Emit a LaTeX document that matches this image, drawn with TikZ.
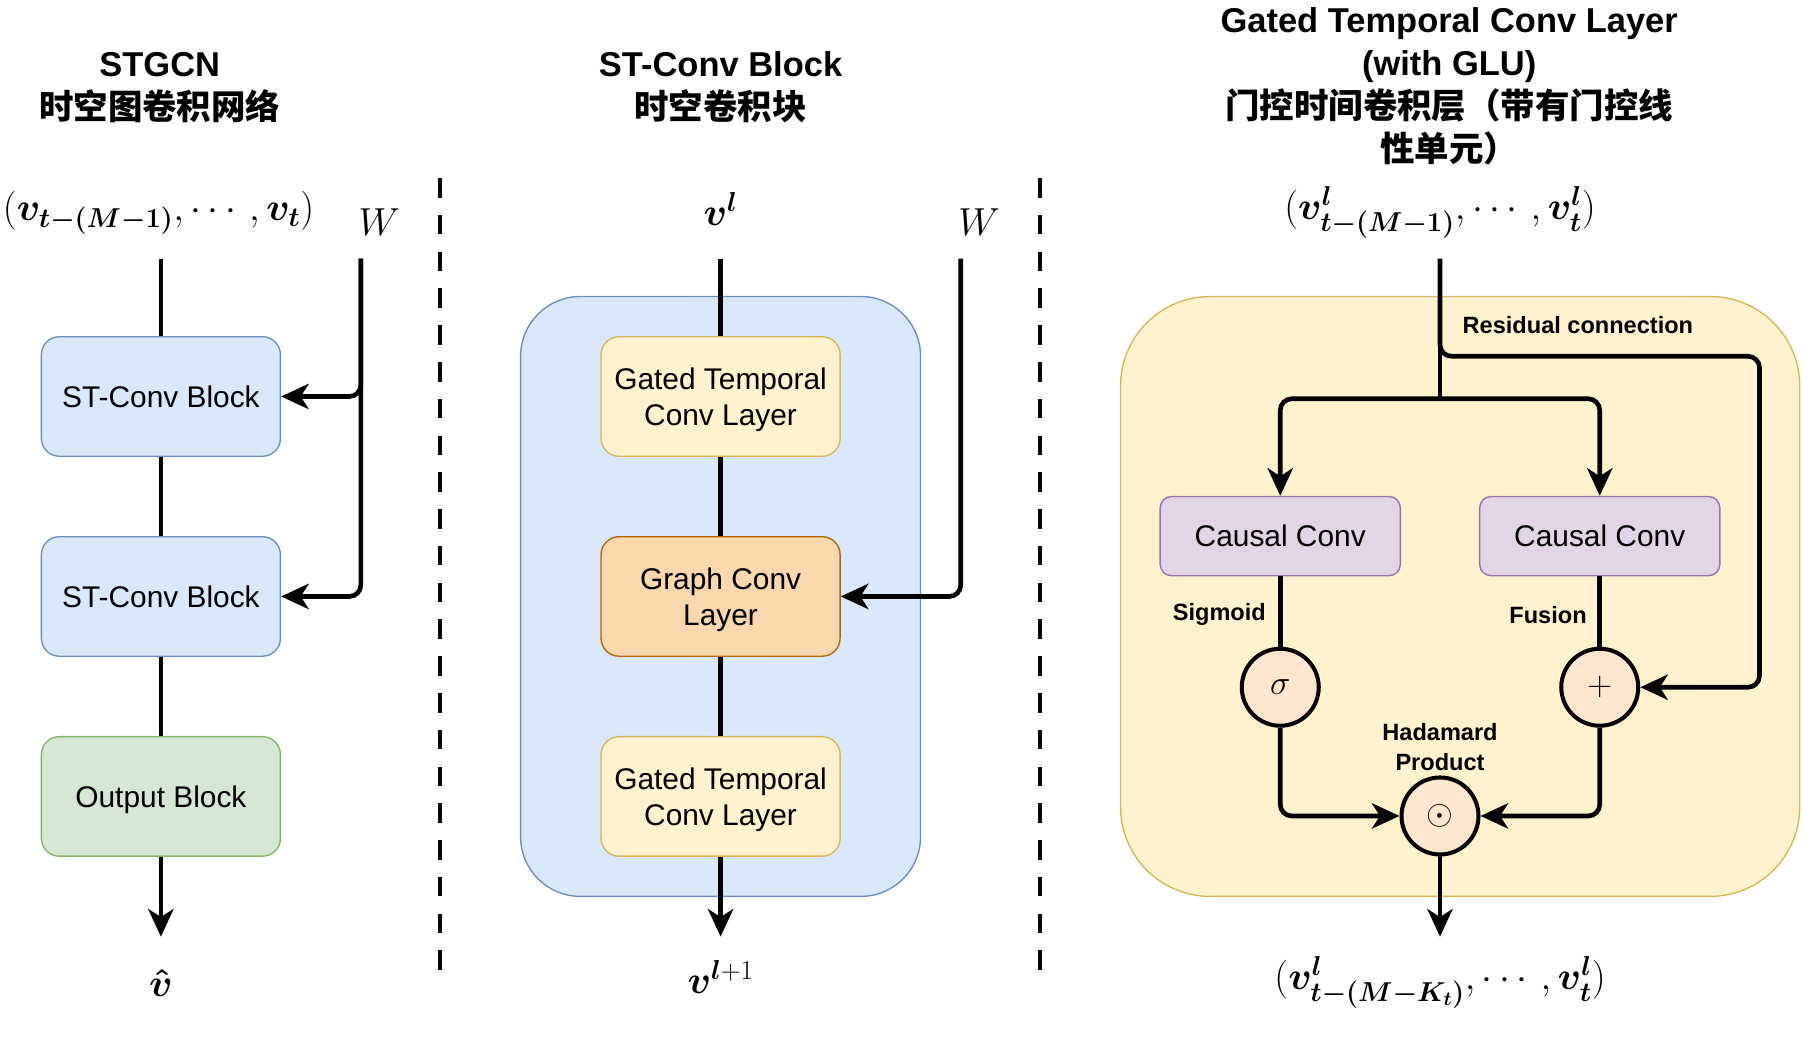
\RequirePackage{fix-cm}
\documentclass[tikz,border=0pt]{standalone}
\usepackage{amsmath}
\usepackage{bm}
\usepackage[no-math]{fontspec}
\setmainfont{Liberation Sans}
\newfontfamily\cjk{Noto Sans CJK SC}
\usetikzlibrary{arrows.meta}
\newcommand{\bv}[1]{\text{\boldmath$#1$}}
\definecolor{blueF}{HTML}{DAE8FC}\definecolor{blueD}{HTML}{6C8EBF}
\definecolor{greenF}{HTML}{D5E8D4}\definecolor{greenD}{HTML}{82B366}
\definecolor{yelF}{HTML}{FFF2CC}\definecolor{yelD}{HTML}{D6B656}
\definecolor{oraF}{HTML}{FAD7AC}\definecolor{oraD}{HTML}{B46504}
\definecolor{purF}{HTML}{E1D5E7}\definecolor{purD}{HTML}{9673A6}
\definecolor{cirF}{HTML}{FFE6CC}
\begin{document}
\begin{tikzpicture}[x=1pt,y=-1pt,
  blk/.style={draw, rounded corners=15.6pt, minimum width=208pt, minimum height=104pt,
    align=center, font=\fontsize{26}{31.5}\selectfont, line width=1.2pt, inner sep=0pt, text depth=0pt},
  ccbox/.style={blk, rounded corners=10pt, minimum width=209pt, minimum height=69pt, fill=purF, draw=purD},
  conn/.style={line width=4pt, rounded corners=10pt},
  arr/.style={conn, -{Stealth[length=24pt,width=22pt,inset=7pt]}},
  ttl/.style={align=center, font=\fontsize{30}{37.5}\selectfont\bfseries, inner sep=0pt},
  mth/.style={font=\fontsize{34}{40}\selectfont, inner sep=0pt},
  lbl/.style={align=center, font=\fontsize{20.5}{26}\selectfont\bfseries, inner sep=0pt},
  circ/.style={circle, draw, line width=3.5pt, fill=cirF, minimum size=67pt, inner sep=0pt,
    font=\fontsize{30}{34}\selectfont},
  dashline/.style={line width=4pt, dash pattern=on 17pt off 15pt}
]
\useasboundingbox (0,0) rectangle (1568,912);
% ---------- left panel ----------
\node[ttl] (t1) at (139,76) {STGCN\\{\cjk\bfseries 时空图卷积网络}};
\node[mth] (inL) at (138,185) {$(\bv{v_{t-(M-1)}},\cdots,\bv{v_{t}})$};
\node[mth] (WL) at (330,193) {$W$};
\node[blk, fill=blueF, draw=blueD] (b1) at (140,345) {ST-Conv Block};
\node[blk, fill=blueF, draw=blueD] (b2) at (140,519) {ST-Conv Block};
\node[blk, fill=greenF, draw=greenD] (ob) at (140,693) {Output Block};
\coordinate (sL) at (140,225);
\coordinate (eL) at (140,815);
\coordinate (wL) at (314,225);
\node[mth] (vhat) at (140,855) {$\bv{\hat{v}}$};
\draw[conn] (sL) -- (b1.north);
\draw[conn] (b1) -- (b2);
\draw[conn] (b2) -- (ob);
\draw[arr] (ob) -- (eL);
\draw[arr] (wL) |- (b1.east);
\draw[arr] (wL) |- (b2.east);
% separators
\draw[dashline] (383,155) -- (383,850);
\draw[dashline] (905,155) -- (905,850);
% ---------- middle panel ----------
\node[ttl] (t2) at (627,76) {ST-Conv Block\\{\cjk\bfseries 时空卷积块}};
\node[mth] (vl) at (627,182) {$\bv{v^{l}}$};
\node[mth] (WM) at (852,193) {$W$};
\node[draw=blueD, fill=blueF, rounded corners=52pt, minimum width=348pt, minimum height=522pt,
  line width=1.2pt] (stc) at (627,519) {};
\coordinate (sM) at (627,225);
\coordinate (eM) at (627,815);
\coordinate (wM) at (836,225);
\node[blk, fill=yelF, draw=yelD] (g1) at (627,345) {Gated Temporal\\Conv Layer};
\node[blk, fill=oraF, draw=oraD] (gc) at (627,519) {Graph Conv\\Layer};
\node[blk, fill=yelF, draw=yelD] (g2) at (627,693) {Gated Temporal\\Conv Layer};
\draw[conn] (sM) -- (g1.north);
\draw[conn] (g1) -- (gc);
\draw[conn] (gc) -- (g2);
\draw[arr] (g2) -- (eM);
\draw[arr] (wM) |- (gc.east);
\node[mth] (vl1) at (627,850) {$\bv{v}^{\bv{l}+1}$};
% ---------- right panel ----------
\node[ttl] (t3) at (1261,75) {Gated Temporal Conv Layer\\(with GLU)\\{\cjk\bfseries 门控时间卷积层（带有门控线}\\{\cjk\bfseries 性单元）}};
\node[mth] (inR) at (1253,185) {$(\bv{v^{l}_{t-(M-1)}},\cdots,\bv{v^{l}_{t}})$};
\node[draw=yelD, fill=yelF, rounded corners=78pt, minimum width=591pt, minimum height=522pt,
  line width=1.2pt] (gtl) at (1270.5,519) {};
\node[lbl] (lres) at (1373,283) {Residual connection};
\coordinate (sR) at (1253,225);
\coordinate (sp) at (1253,347);
\coordinate (rc) at (1531,310);
\coordinate (eR) at (1253,815);
\node[ccbox] (cc1) at (1114,466.5) {Causal Conv};
\node[ccbox] (cc2) at (1392,466.5) {Causal Conv};
\node[circ] (sig) at (1114,598) {$\sigma$};
\node[circ] (plus) at (1392,598) {$+$};
\node[circ] (had) at (1253,710) {$\odot$};
\node[lbl] (lsig) at (1061,535) {Sigmoid};
\node[lbl] (lfus) at (1347,535) {Fusion};
\node[lbl] (lhad) at (1253,650) {Hadamard\\Product};
\draw[conn] (sR) -- (sp);
\draw[arr] (sp) -| (cc1.north);
\draw[arr] (sp) -| (cc2.north);
\draw[arr] (sR) |- (rc) |- (plus.east);
\draw[conn] (cc1) -- (sig);
\draw[conn] (cc2) -- (plus);
\draw[arr] (sig) |- (had.west);
\draw[arr] (plus) |- (had.east);
\draw[arr] (had) -- (eR);
\node[mth] (outR) at (1253,855) {$(\bv{v^{l}_{t-(M-K_t)}},\cdots,\bv{v^{l}_{t}})$};
\end{tikzpicture}
\end{document}
